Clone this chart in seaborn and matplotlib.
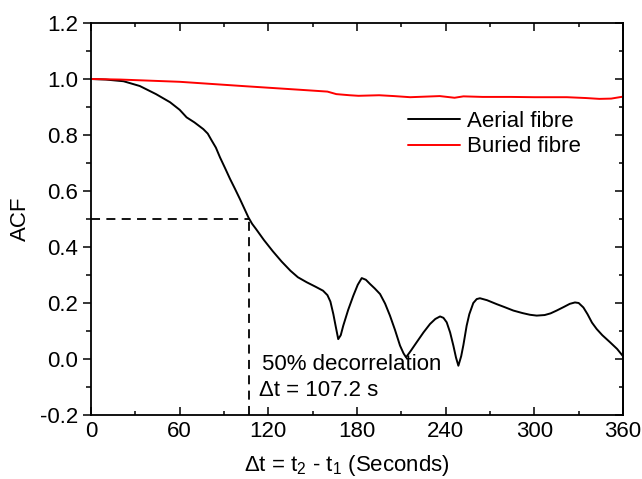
import numpy as np
import pandas as pd
import matplotlib
matplotlib.use('Agg')
import matplotlib.pyplot as plt
import seaborn as sns
from matplotlib.ticker import MultipleLocator

# values
t_aerial = [0, 10, 22, 33, 44, 53.5, 60, 64.7, 70, 76, 79, 81.7, 84.5, 87.3, 90.7,
            94.1, 97.5, 100.8, 103.7, 106.5, 109, 111.7, 117, 123, 129, 135, 140,
            146, 152, 157, 160, 162, 164, 165.5, 167.3, 169, 170.7, 174, 177.5,
            180.5, 183.2, 186, 188.8, 192, 195.6, 199, 202.3, 205.7, 209.1, 211.5,
            213.2, 216.5, 220.4, 225, 229.4, 233, 236.2, 238.5, 240.7, 243, 245.2,
            247, 248.6, 250.5, 252, 254.2, 256, 258.7, 261, 263.2, 268, 274.5,
            280, 285.8, 292, 297, 301.6, 307, 311, 315.1, 320, 324, 327.5, 330,
            333.2, 336, 339, 342.2, 346, 351.2, 356, 360]
acf_aerial = [1.0, 0.998, 0.992, 0.975, 0.946, 0.917, 0.89, 0.863, 0.845, 0.821,
              0.805, 0.780, 0.755, 0.72, 0.682, 0.643, 0.607, 0.571, 0.538, 0.506,
              0.483, 0.464, 0.425, 0.385, 0.348, 0.315, 0.292, 0.274, 0.258, 0.244,
              0.228, 0.205, 0.16, 0.119, 0.071, 0.085, 0.119, 0.175, 0.226, 0.265,
              0.289, 0.283, 0.268, 0.252, 0.232, 0.198, 0.155, 0.104, 0.048, 0.02,
              0.006, 0.03, 0.06, 0.095, 0.125, 0.143, 0.152, 0.147, 0.131, 0.095,
              0.048, 0.005, -0.024, 0.01, 0.05, 0.119, 0.16, 0.2, 0.214, 0.217,
              0.21, 0.196, 0.185, 0.173, 0.164, 0.158, 0.155, 0.157, 0.163, 0.173,
              0.186, 0.197, 0.202, 0.2, 0.184, 0.16, 0.13, 0.107, 0.085, 0.06,
              0.036, 0.01]

t_buried = [0, 20, 60, 105, 140, 160, 166, 175, 181, 195, 205, 216, 226, 236,
            246, 252, 265, 284, 300, 322, 335, 344, 352, 360]
acf_buried = [1.0, 0.998, 0.99, 0.974, 0.962, 0.955, 0.946, 0.942, 0.940, 0.942,
              0.939, 0.935, 0.937, 0.939, 0.933, 0.938, 0.936, 0.936, 0.935,
              0.935, 0.932, 0.929, 0.930, 0.937]

labels = ['Aerial fibre', 'Buried fibre']
colours = ['black', '#ff0000']
t_half = 107.2

df = pd.concat([
    pd.DataFrame({'t': t_aerial, 'acf': acf_aerial, 'fibre': labels[0]}),
    pd.DataFrame({'t': t_buried, 'acf': acf_buried, 'fibre': labels[1]}),
])

sns.set_style('ticks')
plt.rcParams['font.family'] = ['Liberation Sans', 'DejaVu Sans']
plt.rcParams['mathtext.fontset'] = 'custom'
plt.rcParams['mathtext.rm'] = 'Liberation Sans'
plt.rcParams['mathtext.it'] = 'Liberation Sans'
for key in ['text.color', 'axes.labelcolor', 'axes.edgecolor', 'xtick.color', 'ytick.color']:
    plt.rcParams[key] = 'black'
fs = 16

fig = plt.figure(figsize=(6.42, 4.79), dpi=100)
ax = fig.add_axes([91/642, 1 - 415/479, 532/642, 392/479])

sns.lineplot(data=df, x='t', y='acf', hue='fibre', palette=colours,
             linewidth=1.4, ax=ax, sort=False, estimator=None)
for line in ax.get_lines():
    line.set_solid_joinstyle('round')

# 50% decorrelation markers
ax.plot([0, t_half], [0.5, 0.5], color='black', ls=(0, (5, 3.5)), lw=1.3)
ax.plot([t_half, t_half], [-0.2, 0.5], color='black', ls=(0, (5, 3.5)), lw=1.3)
ax.text(115.5, -0.018, '50% decorrelation', fontsize=fs, va='center', ha='left')
ax.text(113.5, -0.114, '\u0394t = 107.2 s', fontsize=fs, va='center', ha='left')

ax.set_xlim(0, 360)
ax.set_ylim(-0.2, 1.2)
ax.xaxis.set_major_locator(MultipleLocator(60))
ax.xaxis.set_minor_locator(MultipleLocator(30))
ax.yaxis.set_major_locator(MultipleLocator(0.2))
ax.yaxis.set_minor_locator(MultipleLocator(0.1))
ax.yaxis.set_major_formatter(matplotlib.ticker.FormatStrFormatter('%.1f'))

ax.tick_params(axis='x', which='both', direction='in', top=True, labelsize=fs, width=1.1, pad=4)
ax.tick_params(axis='x', which='major', length=6)
ax.tick_params(axis='x', which='minor', length=3)
ax.tick_params(axis='y', which='both', direction='out', left=True, right=False, labelsize=fs, width=1.1)
ax.tick_params(axis='y', which='major', length=6)
ax.tick_params(axis='y', which='minor', length=3.5)

right = ax.secondary_yaxis('right')
right.yaxis.set_major_locator(MultipleLocator(0.2))
right.yaxis.set_minor_locator(MultipleLocator(0.1))
right.tick_params(which='both', direction='in', labelright=False, width=1.1)
right.tick_params(which='major', length=6)
right.tick_params(which='minor', length=3)
right.spines['right'].set_linewidth(1.3)

for s in ax.spines.values():
    s.set_visible(True)
    s.set_linewidth(1.3)

ax.set_xlabel('\u0394t = t$_2$ - t$_1$ (Seconds)', fontsize=fs)
ax.xaxis.set_label_coords(0.48, -0.13)
ax.xaxis.label.set_va('center')
ax.set_ylabel('ACF', fontsize=fs, labelpad=6)

leg = ax.legend(loc='upper left', bbox_to_anchor=((408 - 91) / 532, (415 - 111) / 392),
                frameon=False, fontsize=fs, handlelength=2.35, handletextpad=0.3,
                labelspacing=0.2, borderpad=0, borderaxespad=0)
for line in leg.get_lines():
    line.set_linewidth(1.4)

fig.savefig('out.png', dpi=100)
